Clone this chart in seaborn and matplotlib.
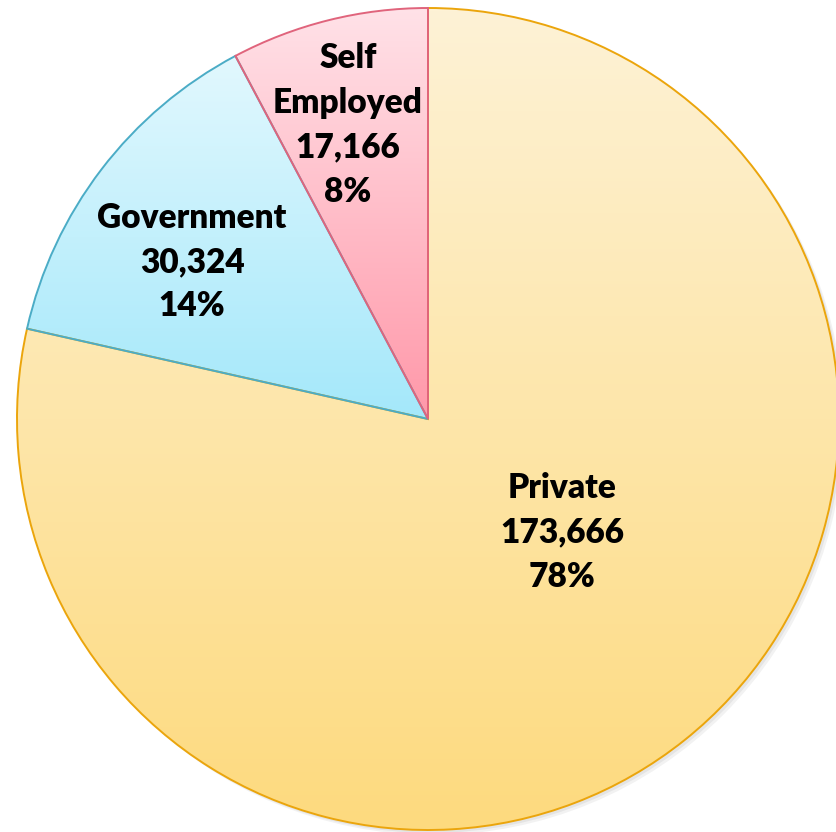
import matplotlib
matplotlib.use("Agg")
import matplotlib.pyplot as plt
import numpy as np
import seaborn as sns
from matplotlib.colors import LinearSegmentedColormap
from matplotlib.patches import Circle

# data
categories = ["Private", "Government", "Self\nEmployed"]
values = [173666, 30324, 17166]
percents = ["78%", "14%", "8%"]

# style (top colour, bottom colour, edge colour) per slice
top_colors = ["#FEF2D6", "#E2F8FE", "#FFE2E8"]
bottom_colors = ["#FDDA7E", "#A4E8FA", "#FF98A9"]
edge_colors = ["#EBA50C", "#4BACC6", "#E0647C"]
label_pos = [(0.326, -0.275), (-0.574, 0.382), (-0.195, 0.715)]

sns.set_style("white")
plt.rcParams["font.family"] = ["Lato", "DejaVu Sans"]

W, H = 836, 832
cx, cy, R = 428, 419, 411
fig = plt.figure(figsize=(W / 100, H / 100), dpi=100)
ax = fig.add_axes([0, 0, 1, 1])
ax.set_xlim(-cx / R, (W - cx) / R)
ax.set_ylim(-(H - cy) / R, cy / R)
ax.set_aspect("equal")
ax.axis("off")

# soft shadow
for off, a in [(0.012, 0.10), (0.007, 0.12)]:
    ax.add_patch(Circle((off, -off), 1.0, color="#808080", alpha=a, lw=0, zorder=0))

wedges, _ = ax.pie(values, startangle=90, counterclock=False, radius=1.0,
                   colors=top_colors, wedgeprops=dict(linewidth=1.4))

grad = np.linspace(0, 1, 256).reshape(-1, 1)
for w, c0, c1, ec in zip(wedges, top_colors, bottom_colors, edge_colors):
    w.set_edgecolor(ec)
    w.set_zorder(3)
    w.set_facecolor("none")
    bb = w.get_path().get_extents()
    cmap = LinearSegmentedColormap.from_list("g", [c0, c1])
    im = ax.imshow(grad, cmap=cmap, aspect="auto", origin="upper",
                   extent=[bb.x0, bb.x1, bb.y0, bb.y1], zorder=2)
    im.set_clip_path(w)

ax.set_xlim(-cx / R, (W - cx) / R)
ax.set_ylim(-(H - cy) / R, cy / R)

for name, v, p, (x, y) in zip(categories, values, percents, label_pos):
    ax.text(x, y, f"{name}\n{v:,}\n{p}", ha="center", va="center",
            fontsize=24, fontweight="heavy", color="black", linespacing=1.48, zorder=5)

fig.savefig("out.png", dpi=100)
